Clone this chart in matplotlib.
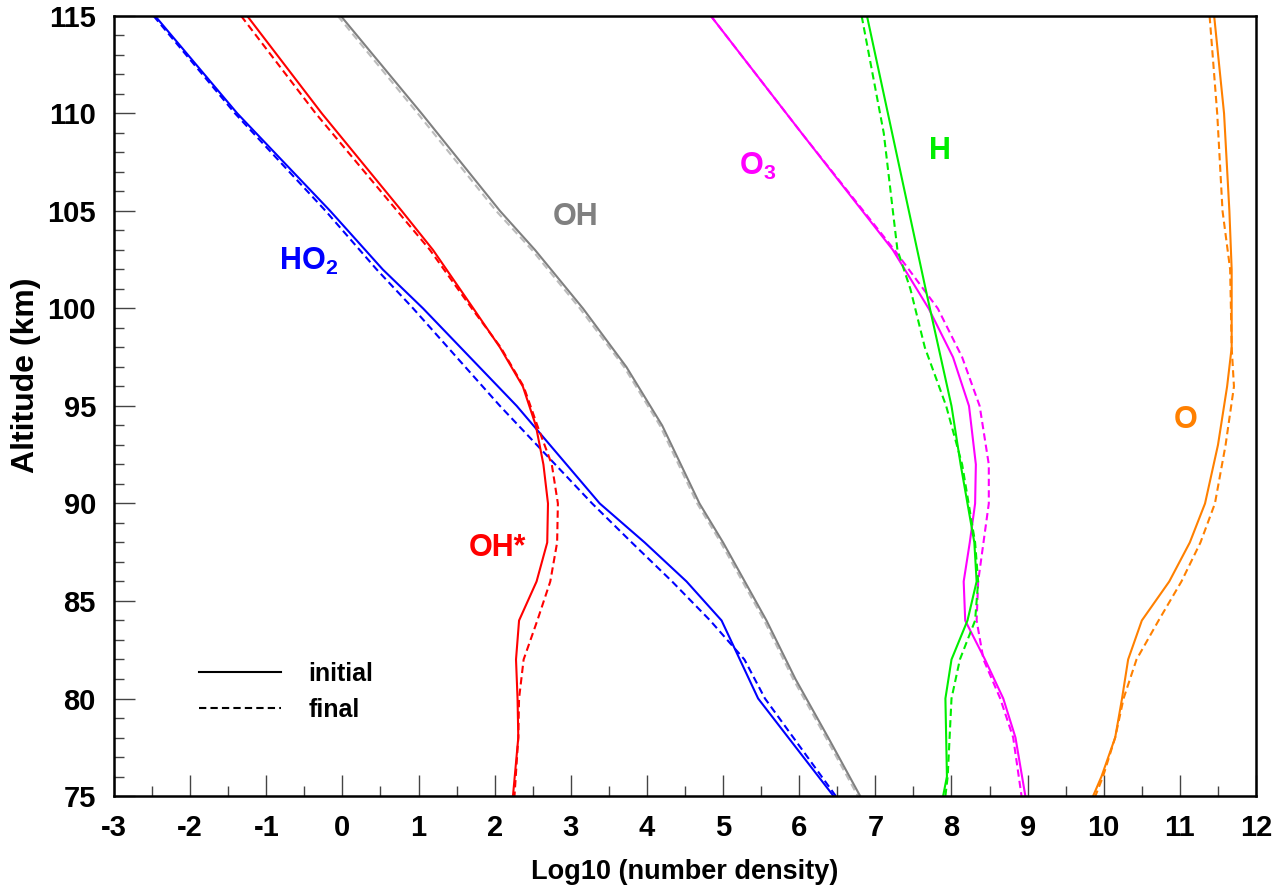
import matplotlib
matplotlib.use("Agg")
import matplotlib.pyplot as plt
from matplotlib.lines import Line2D
from matplotlib.ticker import MultipleLocator

plt.rcParams['font.family'] = ['Liberation Sans', 'DejaVu Sans']
plt.rcParams['font.weight'] = 'bold'
plt.rcParams['axes.unicode_minus'] = False
plt.rcParams['mathtext.fontset'] = 'custom'
plt.rcParams['mathtext.rm'] = 'Liberation Sans:bold'
plt.rcParams['mathtext.it'] = 'Liberation Sans:bold'
plt.rcParams['mathtext.bf'] = 'Liberation Sans:bold'

# log10 number density profiles, initial (solid) and final (dashed)
ho2_alt = [115, 110, 105, 102, 100, 95, 90, 88, 86, 84, 82, 80, 75]
ho2_init = [-2.46, -1.38, -0.16, 0.53, 1.06, 2.29, 3.38, 3.97, 4.52, 4.98, 5.22, 5.46, 6.45]
ho2_final = [-2.48, -1.41, -0.22, 0.45, 0.93, 2.07, 3.28, 3.80, 4.33, 4.83, 5.28, 5.55, 6.48]

ohs_alt = [115, 110, 105, 103, 100, 98, 96, 94, 92, 90, 88, 86, 84, 82, 80, 78, 75]
ohs_init = [-1.25, -0.27, 0.78, 1.19, 1.72, 2.07, 2.37, 2.54, 2.64, 2.70, 2.69, 2.55, 2.32, 2.28, 2.30, 2.31, 2.24]
ohs_final = [-1.33, -0.35, 0.72, 1.15, 1.70, 2.08, 2.38, 2.56, 2.75, 2.83, 2.82, 2.73, 2.56, 2.38, 2.32, 2.31, 2.26]

oh_alt = [115, 110, 105, 103, 100, 97, 94, 90, 88, 84, 81, 78, 75]
oh_init = [-0.02, 1.04, 2.07, 2.53, 3.16, 3.73, 4.20, 4.69, 5.00, 5.57, 5.95, 6.38, 6.80]
oh_final = [-0.06, 0.99, 2.02, 2.49, 3.12, 3.70, 4.17, 4.66, 4.97, 5.54, 5.92, 6.35, 6.77]

o3_alt = [115, 109, 103, 100, 97.5, 95, 92, 90, 88, 86, 84, 82, 80, 78, 75]
o3_init = [4.84, 6.03, 7.23, 7.70, 8.02, 8.23, 8.32, 8.31, 8.24, 8.16, 8.18, 8.44, 8.68, 8.84, 8.97]
o3_final = [4.84, 6.03, 7.25, 7.82, 8.14, 8.37, 8.49, 8.49, 8.42, 8.35, 8.33, 8.42, 8.64, 8.81, 8.92]

h_alt = [115, 109, 103, 101, 98, 95, 92, 88, 86, 84, 82, 80, 76, 75]
h_init = [6.89, 7.22, 7.55, 7.66, 7.83, 8.00, 8.12, 8.30, 8.33, 8.21, 8.00, 7.92, 7.94, 7.89]
h_final = [6.82, 7.11, 7.29, 7.46, 7.65, 7.93, 8.14, 8.31, 8.35, 8.31, 8.11, 8.00, 7.95, 7.92]

o_alt = [115, 110, 105, 102, 98, 96, 93, 90, 88, 86, 84, 82, 80, 78, 76, 75]
o_init = [11.45, 11.58, 11.65, 11.68, 11.68, 11.62, 11.50, 11.33, 11.13, 10.86, 10.50, 10.32, 10.24, 10.15, 9.97, 9.86]
o_final = [11.39, 11.49, 11.56, 11.66, 11.68, 11.71, 11.60, 11.46, 11.27, 11.02, 10.72, 10.43, 10.26, 10.15, 9.99, 9.89]

DASH = (0, (3.5, 2))


def main():
  fig = plt.figure(figsize=(12.74, 8.88), dpi=100)
  ax = fig.add_axes([0.0895, 0.1036, 0.8964, 0.8784])

  series = [
    (ho2_alt, ho2_init, ho2_final, '#0000ff', '#0000ff'),
    (ohs_alt, ohs_init, ohs_final, '#ff0000', '#ff0000'),
    (oh_alt, oh_init, oh_final, '#808080', '#bcbcbc'),
    (o3_alt, o3_init, o3_final, '#ff00ff', '#ff00ff'),
    (h_alt, h_init, h_final, '#00ee00', '#00ee00'),
    (o_alt, o_init, o_final, '#ff8000', '#ff8000'),
  ]
  for alt, xi, xf, ci, cf in series:
    ax.plot(xf, alt, color=cf, lw=1.5, linestyle=DASH)
    ax.plot(xi, alt, color=ci, lw=1.5)

  # species labels
  lab = dict(fontsize=22, fontweight='bold', ha='center', va='center')
  ax.text(-0.45, 102.4, r'HO$_2$', color='#0000ff', **lab)
  ax.text(3.06, 104.7, 'OH', color='#808080', **lab)
  ax.text(2.03, 87.7, 'OH*', color='#ff0000', **lab)
  ax.text(5.45, 107.3, r'O$_3$', color='#ff00ff', **lab)
  ax.text(7.85, 108.1, 'H', color='#00ee00', **lab)
  ax.text(11.07, 94.3, 'O', color='#ff8000', **lab)

  handles = [Line2D([], [], color='k', lw=1.5),
             Line2D([], [], color='k', lw=1.5, linestyle=DASH)]
  ax.legend(handles, ['initial', 'final'], loc='upper left',
            bbox_to_anchor=(0.074, 0.172), frameon=False, fontsize=18,
            handlelength=3.3, handletextpad=1.1, labelspacing=0.48,
            borderpad=0, borderaxespad=0)

  ax.set_xlim(-3, 12)
  ax.set_ylim(75, 115)
  ax.xaxis.set_major_locator(MultipleLocator(1))
  ax.xaxis.set_minor_locator(MultipleLocator(0.5))
  ax.yaxis.set_major_locator(MultipleLocator(5))
  ax.yaxis.set_minor_locator(MultipleLocator(1))
  ax.tick_params(which='both', direction='in', top=False, right=False,
                 color='#444444', width=1, labelsize=21)
  ax.tick_params(which='major', length=15, pad=13)
  ax.tick_params(which='minor', length=7)
  for lbl in ax.get_xticklabels() + ax.get_yticklabels():
    lbl.set_fontweight('bold')
  for sp in ax.spines.values():
    sp.set_linewidth(1.8)

  ax.set_xlabel('Log10 (number density)', fontsize=19.5, fontweight='bold', labelpad=12)
  ax.set_ylabel('Altitude (km)', fontsize=23, fontweight='bold')
  ax.yaxis.set_label_coords(-0.064, 0.54)

  fig.savefig('out.png', dpi=100)


if __name__ == "__main__":
  main()
